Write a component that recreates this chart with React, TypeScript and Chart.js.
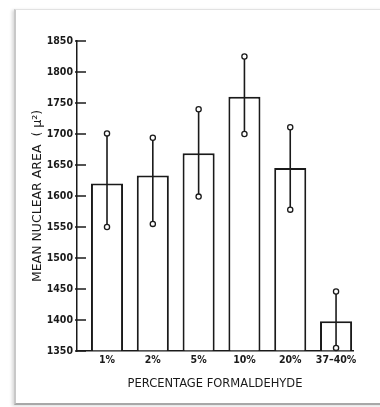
import React, { useEffect, useRef } from "react";
import { Chart, registerables } from "chart.js";

Chart.register(...registerables);

const categories = ["1%", "2%", "5%", "10%", "20%", "37–40%"];
const meanArea = [1620, 1633, 1669, 1760, 1645, 1398];
const upperLimit = [1701, 1694, 1740, 1825, 1711, 1446];
const lowerLimit = [1550, 1555, 1599, 1700, 1578, 1355];
const yTicks = [1350, 1400, 1450, 1500, 1550, 1600, 1650, 1700, 1750, 1800, 1850];

const INK = "#1a1a1a";
const FONT = "'DejaVu Sans Condensed', 'DejaVu Sans', sans-serif";
const TITLE_FONT = "'DejaVu Sans', sans-serif";

const errorBarPlugin = {
  id: "errorBars",
  afterDatasetsDraw(chart: any) {
    const { ctx } = chart;
    const xs = chart.scales.x;
    const ys = chart.scales.y;
    ctx.save();
    categories.forEach((_, i) => {
      const x = xs.getPixelForValue(i + 1);
      const yTop = ys.getPixelForValue(upperLimit[i]);
      const yBot = ys.getPixelForValue(lowerLimit[i]);
      ctx.strokeStyle = INK;
      ctx.lineWidth = 1.6;
      ctx.beginPath();
      ctx.moveTo(x, yTop);
      ctx.lineTo(x, yBot);
      ctx.stroke();
      [yTop, yBot].forEach((y) => {
        ctx.beginPath();
        ctx.arc(x, y, 2.6, 0, Math.PI * 2);
        ctx.fillStyle = "#fff";
        ctx.fill();
        ctx.lineWidth = 1.3;
        ctx.stroke();
      });
    });
    ctx.restore();
  },
  afterDraw(chart: any) {
    const { ctx } = chart;
    const ys = chart.scales.y;
    const left = chart.chartArea.left;
    ctx.save();
    ctx.strokeStyle = INK;
    ctx.lineWidth = 1.5;
    yTicks.forEach((v) => {
      const y = ys.getPixelForValue(v);
      ctx.beginPath();
      ctx.moveTo(left - 2, y);
      ctx.lineTo(left + 9, y);
      ctx.stroke();
    });
    ctx.restore();
  },
};

export default function App() {
  const ref = useRef<HTMLCanvasElement>(null);
  useEffect(() => {
    if (!ref.current) return;
    const chart = new Chart(ref.current, {
      type: "bar",
      data: {
        datasets: [
          {
            data: meanArea.map((v, i) => ({ x: i + 1, y: v })),
            backgroundColor: "#ffffff",
            borderColor: INK,
            borderWidth: 2,
            barPercentage: 1,
            categoryPercentage: 0.7,
            base: 1350,
          },
        ],
      },
      options: {
        animation: false,
        responsive: false,
        maintainAspectRatio: false,
        layout: { padding: { left: 30, right: 27, top: 41, bottom: 16 } },
        plugins: { legend: { display: false }, tooltip: { enabled: false } },
        scales: {
          x: {
            type: "linear",
            offset: false,
            min: 0.345,
            max: 6.37,
            afterBuildTicks: (scale: any) => {
              scale.ticks = categories.map((_, i) => ({ value: i + 1 }));
            },
            afterFit: (scale: any) => {
              scale.height = 40;
            },
            grid: { display: true, drawOnChartArea: false, drawTicks: false },
            border: { display: true, color: INK, width: 1.5 },
            ticks: {
              autoSkip: false,
              maxRotation: 0,
              padding: 3,
              color: INK,
              font: { family: FONT, size: 10.5, weight: "bold" },
              callback: (v: any) => categories[Math.round(v) - 1] ?? "",
            },
            title: {
              display: true,
              text: "PERCENTAGE FORMALDEHYDE",
              color: INK,
              font: { family: TITLE_FONT, size: 11.5 },
              padding: { top: 8, bottom: 0 },
            },
          },
          y: {
            min: 1350,
            max: 1850,
            afterBuildTicks: (scale: any) => {
              scale.ticks = yTicks.map((v) => ({ value: v }));
            },
            afterFit: (scale: any) => {
              scale.width = 47;
            },
            grid: { display: true, drawOnChartArea: false, drawTicks: false },
            border: { display: true, color: INK, width: 1.5 },
            ticks: {
              padding: 4,
              color: INK,
              font: { family: FONT, size: 10.5, weight: "bold" },
              callback: (v: any) => String(v),
            },
            title: {
              display: true,
              text: "MEAN NUCLEAR AREA  ( μ²)",
              color: INK,
              font: { family: TITLE_FONT, size: 12.5 },
              padding: { top: 0, bottom: 2 },
            },
          },
        },
      },
      plugins: [errorBarPlugin],
    } as any);
    return () => chart.destroy();
  }, []);

  return (
    <div style={{ position: "fixed", left: 0, top: 0, width: 380, height: 407, background: "#fff", overflow: "hidden" }}>
      <div
        style={{
          position: "absolute",
          left: 14,
          top: 9,
          width: 400,
          height: 393,
          background: "#fff",
          borderLeft: "2px solid #c8c8c8",
          borderTop: "1px solid #e2e2e2",
          borderBottom: "2px solid #a8a8a8",
          boxShadow: "-2px 1px 3px rgba(0,0,0,0.15)",
        }}
      />
      <canvas ref={ref} width={380} height={407} style={{ position: "absolute", left: 0, top: 0, width: 380, height: 407 }} />
    </div>
  );
}
